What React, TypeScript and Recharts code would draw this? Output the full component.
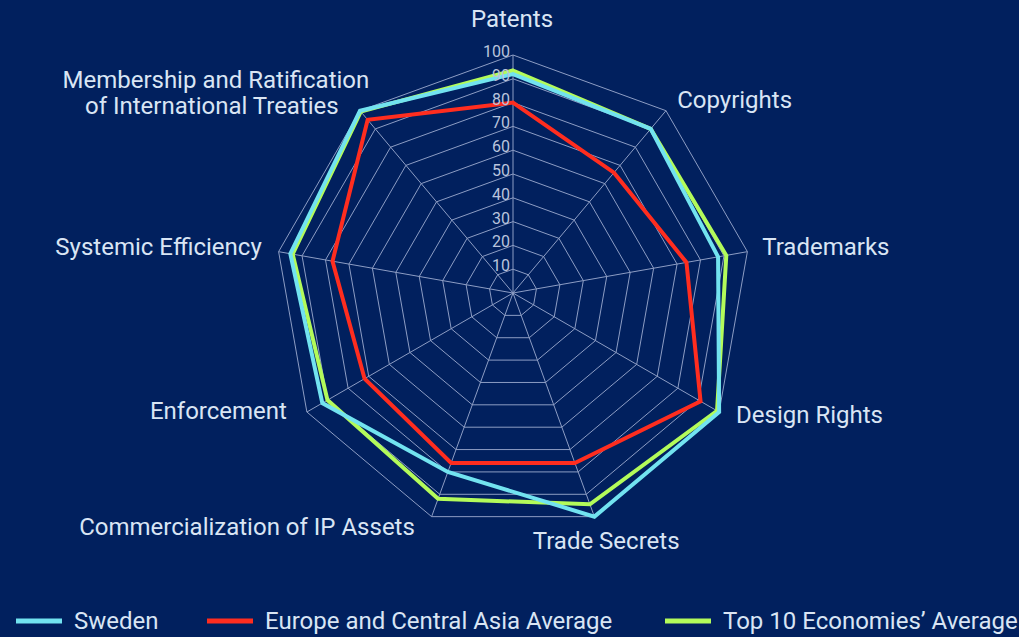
import { PolarAngleAxis, PolarGrid, PolarRadiusAxis, Radar, RadarChart } from "recharts";

const categories = [
  "Patents",
  "Copyrights",
  "Trademarks",
  "Design Rights",
  "Trade Secrets",
  "Commercialization of IP Assets",
  "Enforcement",
  "Systemic Efficiency",
  "Membership and Ratification of International Treaties",
];

const sweden = [92, 90, 87.5, 100, 100, 80, 92.5, 95, 100];
const europeAvg = [80, 66, 74, 91, 76, 76, 72, 77, 95];
const top10Avg = [93.5, 90, 91, 99, 94.5, 92, 90, 94, 99.5];

const radiusTicks = [0, 10, 20, 30, 40, 50, 60, 70, 80, 90, 100];

const BG = "#01205e";
const TEXT = "#d9e5f4";
const GRID = "#8d9dc4";
const CYAN = "#72e3f0";
const RED = "#ff2d1f";
const GREEN = "#b3fb5a";
const FONT = "Roboto, sans-serif";

const data = categories.map((name, i) => ({
  name,
  sweden: sweden[i],
  europe: europeAvg[i],
  top10: top10Avg[i],
}));

// label nudges from the default tick position
const labelOffsets: Array<{ dx: number; dy: number; anchor: "start" | "middle" | "end" }> = [
  { dx: -1, dy: -20, anchor: "middle" },
  { dx: 6, dy: 3, anchor: "start" },
  { dx: 7, dy: 5, anchor: "start" },
  { dx: 10, dy: 7, anchor: "start" },
  { dx: 9, dy: 25, anchor: "middle" },
  { dx: -14, dy: 11, anchor: "end" },
  { dx: -13, dy: 3, anchor: "end" },
  { dx: -9, dy: 5, anchor: "end" },
  { dx: -139, dy: -16.5, anchor: "middle" },
];

function AngleTick(props: any) {
  const { x, y, payload, index } = props;
  const off = labelOffsets[index] ?? { dx: 0, dy: 0, anchor: "middle" };
  const label: string = payload.value;
  const lines = label.startsWith("Membership")
    ? ["Membership and Ratification", "of International Treaties"]
    : [label];
  return (
    <text
      x={x + off.dx}
      y={y + off.dy}
      textAnchor={off.anchor}
      fill={TEXT}
      fontSize={24}
      fontFamily={FONT}
    >
      {lines.map((line, i) => (
        <tspan key={line} x={x + off.dx + (i === 1 ? -4 : 0)} dy={i === 0 ? 0 : 26}>
          {line}
        </tspan>
      ))}
    </text>
  );
}

function RadiusTick(props: any) {
  const { x, y, payload } = props;
  if (payload.value === 0) return null;
  return (
    <text x={x - 3} y={y + 2} textAnchor="end" fill="#b9c4dd" fontSize={16} fontFamily={FONT}>
      {payload.value}
    </text>
  );
}

const legendItems = [
  { label: "Sweden", color: CYAN, x: 16 },
  { label: "Europe and Central Asia Average", color: RED, x: 207 },
  { label: "Top 10 Economies\u2019 Average", color: GREEN, x: 665 },
];

export default function App() {
  return (
    <div
      style={{
        position: "absolute",
        left: 0,
        top: 0,
        width: 1019,
        height: 637,
        background: BG,
        overflow: "hidden",
      }}
    >
      <RadarChart
        width={1019}
        height={637}
        data={data}
        cx={513}
        cy={293}
        outerRadius={238}
        margin={{ top: 0, right: 0, bottom: 0, left: 0 }}
      >
        <PolarGrid gridType="polygon" stroke={GRID} strokeWidth={1} />
        <PolarAngleAxis dataKey="name" tick={<AngleTick />} tickLine={false} axisLine={false} />
        <PolarRadiusAxis
          angle={90}
          domain={[0, 100]}
          ticks={radiusTicks as any}
          tickCount={11}
          tick={<RadiusTick />}
          axisLine={false}
          tickLine={false}
        />
        <Radar
          name="Top 10 Economies' Average"
          dataKey="top10"
          stroke={GREEN}
          strokeWidth={4}
          fill="none"
          fillOpacity={0}
          dot={false}
          isAnimationActive={false}
        />
        <Radar
          name="Europe and Central Asia Average"
          dataKey="europe"
          stroke={RED}
          strokeWidth={4}
          fill="none"
          fillOpacity={0}
          dot={false}
          isAnimationActive={false}
        />
        <Radar
          name="Sweden"
          dataKey="sweden"
          stroke={CYAN}
          strokeWidth={4}
          fill="none"
          fillOpacity={0}
          dot={false}
          isAnimationActive={false}
        />
      </RadarChart>
      <svg
        width={1019}
        height={40}
        style={{ position: "absolute", left: 0, top: 597 }}
      >
        {legendItems.map((item) => (
          <g key={item.label}>
            <line x1={item.x} x2={item.x + 46} y1={24} y2={24} stroke={item.color} strokeWidth={5} />
            <text x={item.x + 58} y={32} fill={TEXT} fontSize={24} fontFamily={FONT}>
              {item.label}
            </text>
          </g>
        ))}
      </svg>
    </div>
  );
}
